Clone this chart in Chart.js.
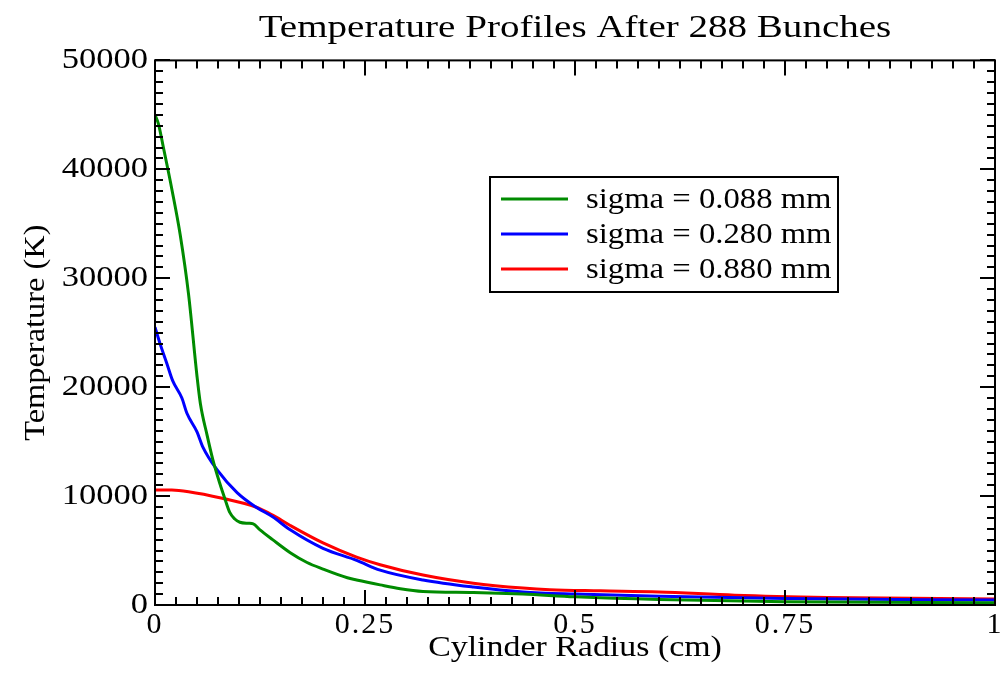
<!DOCTYPE html>
<html>
<head>
<meta charset="utf-8">
<script src="https://cdn.jsdelivr.net/npm/chart.js@4.4.0/dist/chart.umd.min.js"></script>
<style>
  html, body { margin: 0; padding: 0; background: #fff; }
  canvas { display: block; }
</style>
</head>
<body>
<canvas id="chart" width="1000" height="676"></canvas>
<script>
// series: radius (cm) and temperature (K)
const sigma088R = [0, 0.004, 0.01, 0.02, 0.03, 0.04, 0.05, 0.054, 0.062, 0.069, 0.077, 0.083, 0.089, 0.095, 0.101, 0.111, 0.117, 0.125, 0.14, 0.161, 0.181, 0.2, 0.229, 0.24, 0.268, 0.292, 0.319, 0.379, 0.438, 0.5, 0.6, 0.75, 1.0];
const sigma088T = [45000, 44200, 42000, 38200, 34000, 28500, 21000, 18500, 15600, 13300, 11200, 9800, 8500, 7900, 7600, 7500, 7450, 6900, 6000, 4800, 3900, 3300, 2500, 2300, 1850, 1500, 1250, 1150, 1000, 750, 500, 300, 200];

const sigma280R = [0, 0.006, 0.014, 0.021, 0.032, 0.038, 0.05, 0.057, 0.074, 0.098, 0.12, 0.14, 0.161, 0.2, 0.24, 0.268, 0.319, 0.379, 0.438, 0.5, 0.6, 0.75, 1.0];
const sigma280T = [25500, 24000, 22200, 20600, 19000, 17600, 15900, 14500, 12400, 10300, 9000, 8100, 6900, 5200, 4100, 3200, 2300, 1650, 1200, 1000, 800, 600, 450];

const sigma880R = [0, 0.02, 0.04, 0.08, 0.12, 0.14, 0.161, 0.2, 0.24, 0.268, 0.319, 0.379, 0.438, 0.47, 0.53, 0.6, 0.69, 0.8, 1.0];
const sigma880T = [10550, 10550, 10400, 9800, 9000, 8250, 7300, 5700, 4400, 3700, 2750, 2000, 1550, 1400, 1300, 1200, 900, 700, 550];

const seriesLabels = ['sigma = 0.088 mm', 'sigma = 0.280 mm', 'sigma = 0.880 mm'];
const seriesColors = ['rgb(0,139,0)', 'rgb(0,0,255)', 'rgb(255,0,0)'];
const xTicks = [0, 0.25, 0.5, 0.75, 1];
const yTicks = [0, 10000, 20000, 30000, 40000, 50000];

const FONT = 'Liberation Serif, Times New Roman, serif';

function pts(rs, ts) {
  return rs.map((r, i) => ({ x: r, y: ts[i] }));
}

// the reference lettering is wider than plain Times: stretch it while drawing
function wrapDraw(obj, name, before) {
  const orig = obj[name];
  if (orig.__wrapped) return;
  obj[name] = function () {
    const ctx = this.ctx;
    ctx.save();
    before(ctx, this);
    orig.apply(this, arguments);
    ctx.restore();
  };
  obj[name].__wrapped = true;
}

function stretchX(ctx, cx, s) {
  ctx.translate(cx, 0); ctx.scale(s, 1); ctx.translate(-cx, 0);
}
function stretchY(ctx, cy, s) {
  ctx.translate(0, cy); ctx.scale(1, s); ctx.translate(0, -cy);
}

const stretchPlugin = {
  id: 'stretch',
  afterLayout(chart) {
    if (chart.titleBlock) {
      wrapDraw(chart.titleBlock, 'draw', (ctx, t) => stretchX(ctx, (t.left + t.right) / 2, 1.22));
    }
    const xs = chart.scales.x, ys = chart.scales.y;
    wrapDraw(xs, 'drawLabels', ctx => { ctx.letterSpacing = '2px'; });
    wrapDraw(ys, 'drawLabels', (ctx, s) => stretchX(ctx, s.right - s.options.ticks.padding, 1.15));
    wrapDraw(xs, 'drawTitle', (ctx, s) => stretchX(ctx, (s.left + s.right) / 2, 1.13));
    wrapDraw(ys, 'drawTitle', (ctx, s) => stretchY(ctx, (s.top + s.bottom) / 2, 1.08));
  }
};

// axis frame with inward major/minor ticks on all four sides, plus boxed legend
const framePlugin = {
  id: 'frame',
  afterDatasetsDraw(chart) {
    const ctx = chart.ctx;
    const a = chart.chartArea;
    const xs = chart.scales.x, ys = chart.scales.y;
    ctx.save();
    ctx.strokeStyle = '#000';
    ctx.lineWidth = 2;
    ctx.strokeRect(a.left, a.top, a.right - a.left, a.bottom - a.top);

    ctx.beginPath();
    for (let i = 0; i <= 40; i++) {
      const px = Math.round(xs.getPixelForValue(i * 0.025));
      const len = i % 10 === 0 ? 15 : 8;
      ctx.moveTo(px, a.bottom); ctx.lineTo(px, a.bottom - len);
      ctx.moveTo(px, a.top); ctx.lineTo(px, a.top + len);
    }
    for (let i = 0; i <= 50; i++) {
      const py = Math.round(ys.getPixelForValue(i * 1000));
      const len = i % 10 === 0 ? 15 : 8;
      ctx.moveTo(a.left, py); ctx.lineTo(a.left + len, py);
      ctx.moveTo(a.right, py); ctx.lineTo(a.right - len, py);
    }
    ctx.stroke();

    // legend
    const lx = 490, ly = 177, lw = 348, lh = 115;
    ctx.fillStyle = '#fff';
    ctx.fillRect(lx, ly, lw, lh);
    ctx.strokeRect(lx, ly, lw, lh);
    ctx.font = '30px ' + FONT;
    ctx.textBaseline = 'middle';
    ctx.textAlign = 'left';
    chart.data.datasets.forEach((ds, i) => {
      const y = ly + 22 + i * 35;
      ctx.strokeStyle = ds.borderColor;
      ctx.lineWidth = 3;
      ctx.beginPath();
      ctx.moveTo(lx + 11, y); ctx.lineTo(lx + 78, y);
      ctx.stroke();
      ctx.save();
      stretchX(ctx, lx + 96, 1.09);
      ctx.fillStyle = '#000';
      ctx.fillText(ds.label, lx + 96, y + 1);
      ctx.restore();
    });
    ctx.restore();
  }
};

new Chart(document.getElementById('chart'), {
  type: 'line',
  data: {
    datasets: [
      { label: seriesLabels[0], data: pts(sigma088R, sigma088T), borderColor: seriesColors[0] },
      { label: seriesLabels[1], data: pts(sigma280R, sigma280T), borderColor: seriesColors[1] },
      { label: seriesLabels[2], data: pts(sigma880R, sigma880T), borderColor: seriesColors[2] }
    ]
  },
  options: {
    responsive: false,
    animation: false,
    layout: { padding: { left: 0, right: 5, top: 0, bottom: 0 } },
    elements: {
      line: { borderWidth: 3, cubicInterpolationMode: 'monotone', fill: false },
      point: { radius: 0 }
    },
    plugins: {
      legend: { display: false },
      tooltip: { enabled: false },
      title: {
        display: true,
        fullSize: false,
        text: 'Temperature Profiles After 288 Bunches',
        color: '#000',
        font: { family: FONT, size: 32, weight: 'normal' },
        padding: { top: 9, bottom: 13 }
      }
    },
    scales: {
      x: {
        type: 'linear',
        min: 0, max: 1,
        afterBuildTicks: s => { s.ticks = xTicks.map(v => ({ value: v })); },
        afterFit: s => { s.height = 71; s.paddingRight = 0; },
        grid: { display: false, drawTicks: false },
        border: { display: false },
        ticks: { color: '#000', padding: 2, maxRotation: 0, font: { family: FONT, size: 30 }, callback: v => String(v) },
        title: { display: true, text: 'Cylinder Radius (cm)', color: '#000', font: { family: FONT, size: 30 }, padding: { top: 0, bottom: 10 } }
      },
      y: {
        min: 0, max: 50000,
        afterBuildTicks: s => { s.ticks = yTicks.map(v => ({ value: v })); },
        afterFit: s => { s.width = 155; },
        grid: { display: false, drawTicks: false },
        border: { display: false },
        ticks: { color: '#000', padding: 7, font: { family: FONT, size: 30 }, callback: v => String(v) },
        title: { display: true, text: 'Temperature (K)', color: '#000', font: { family: FONT, size: 30 }, padding: { top: 18, bottom: 0 } }
      }
    }
  },
  plugins: [stretchPlugin, framePlugin]
});
</script>
</body>
</html>
